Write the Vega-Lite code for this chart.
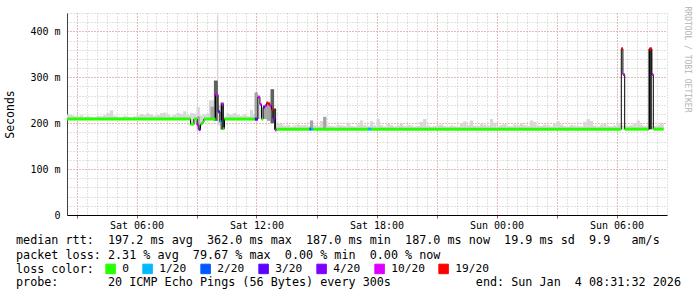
{
  "$schema": "https://vega.github.io/schema/vega-lite/v6.json",
  "width": 600,
  "height": 202,
  "autosize": {"type": "none"},
  "padding": {"left": 67, "top": 13, "right": 30, "bottom": 82},
  "background": "white",
  "config": {"view": {"stroke": null}, "font": "DejaVu Sans Mono"},
  "title": {
    "text": ["median\u00a0rtt:\u00a0\u00a0197.2\u00a0ms\u00a0avg\u00a0\u00a0362.0\u00a0ms\u00a0max\u00a0\u00a0187.0\u00a0ms\u00a0min\u00a0\u00a0187.0\u00a0ms\u00a0now\u00a0\u00a019.9\u00a0ms\u00a0sd\u00a0\u00a09.9\u00a0\u00a0\u00a0am/s", "packet\u00a0loss:\u00a02.31\u00a0%\u00a0avg\u00a0\u00a079.67\u00a0%\u00a0max\u00a0\u00a00.00\u00a0%\u00a0min\u00a0\u00a00.00\u00a0%\u00a0now"],
    "subtitle": "probe:\u00a0\u00a0\u00a0\u00a0\u00a0\u00a0\u00a020\u00a0ICMP\u00a0Echo\u00a0Pings\u00a0(56\u00a0Bytes)\u00a0every\u00a0300s\u00a0\u00a0\u00a0\u00a0\u00a0\u00a0\u00a0\u00a0\u00a0\u00a0\u00a0\u00a0end:\u00a0Sun\u00a0Jan\u00a0\u00a04\u00a008:31:32\u00a02026",
    "orient": "bottom", "anchor": "start", "frame": "group", "dx": -51, "dy": -47, "offset": 6,
    "font": "DejaVu Sans Mono", "fontSize": 11.75, "fontWeight": "normal", "color": "black", "lineHeight": 14.5,
    "subtitleFont": "DejaVu Sans Mono", "subtitleFontSize": 11.75, "subtitleFontWeight": "normal", "subtitleColor": "black", "subtitlePadding": 16
  },
  "datasets": {
    "smoke": [
      {"a":2.5,"b":2.67,"lo":207,"hi":219,"s":"l"},
      {"a":2.67,"b":2.83,"lo":207,"hi":218,"s":"l"},
      {"a":2.83,"b":3.0,"lo":207,"hi":216,"s":"l"},
      {"a":3.0,"b":3.17,"lo":207,"hi":215,"s":"l"},
      {"a":3.17,"b":3.33,"lo":207,"hi":217,"s":"l"},
      {"a":3.33,"b":3.5,"lo":207,"hi":214,"s":"l"},
      {"a":3.5,"b":3.67,"lo":207,"hi":215,"s":"l"},
      {"a":3.67,"b":3.83,"lo":207,"hi":214,"s":"l"},
      {"a":3.83,"b":4.0,"lo":207,"hi":213,"s":"l"},
      {"a":4.0,"b":4.17,"lo":207,"hi":216,"s":"l"},
      {"a":4.17,"b":4.33,"lo":207,"hi":215,"s":"l"},
      {"a":4.33,"b":4.5,"lo":207,"hi":218,"s":"l"},
      {"a":4.5,"b":4.67,"lo":207,"hi":222,"s":"l"},
      {"a":4.67,"b":4.83,"lo":207,"hi":228,"s":"l"},
      {"a":4.83,"b":5.0,"lo":207,"hi":216,"s":"l"},
      {"a":5.0,"b":5.17,"lo":207,"hi":214,"s":"l"},
      {"a":5.17,"b":5.33,"lo":207,"hi":213,"s":"l"},
      {"a":5.33,"b":5.5,"lo":207,"hi":216,"s":"l"},
      {"a":5.5,"b":5.67,"lo":207,"hi":214,"s":"l"},
      {"a":5.67,"b":5.83,"lo":207,"hi":213,"s":"l"},
      {"a":5.83,"b":6.0,"lo":207,"hi":215,"s":"l"},
      {"a":6.0,"b":6.17,"lo":207,"hi":217,"s":"l"},
      {"a":6.17,"b":6.33,"lo":207,"hi":220,"s":"l"},
      {"a":6.33,"b":6.5,"lo":207,"hi":218,"s":"l"},
      {"a":6.5,"b":6.67,"lo":207,"hi":221,"s":"l"},
      {"a":6.67,"b":6.83,"lo":207,"hi":219,"s":"l"},
      {"a":6.83,"b":7.0,"lo":207,"hi":216,"s":"l"},
      {"a":7.0,"b":7.17,"lo":207,"hi":218,"s":"l"},
      {"a":7.17,"b":7.33,"lo":207,"hi":222,"s":"l"},
      {"a":7.33,"b":7.5,"lo":207,"hi":223,"s":"l"},
      {"a":7.5,"b":7.67,"lo":207,"hi":219,"s":"l"},
      {"a":7.67,"b":7.83,"lo":207,"hi":215,"s":"l"},
      {"a":7.83,"b":8.0,"lo":207,"hi":218,"s":"l"},
      {"a":8.0,"b":8.17,"lo":207,"hi":222,"s":"l"},
      {"a":8.17,"b":8.33,"lo":207,"hi":220,"s":"l"},
      {"a":8.33,"b":8.5,"lo":207,"hi":226,"s":"l"},
      {"a":8.5,"b":8.67,"lo":207,"hi":218,"s":"l"},
      {"a":10.33,"b":10.5,"lo":207,"hi":215,"s":"l"},
      {"a":10.5,"b":10.67,"lo":207,"hi":221,"s":"l"},
      {"a":10.67,"b":10.83,"lo":207,"hi":219,"s":"l"},
      {"a":10.83,"b":11.0,"lo":207,"hi":222,"s":"l"},
      {"a":11.0,"b":11.17,"lo":207,"hi":218,"s":"l"},
      {"a":11.17,"b":11.33,"lo":207,"hi":216,"s":"l"},
      {"a":11.33,"b":11.5,"lo":207,"hi":219,"s":"l"},
      {"a":11.5,"b":11.67,"lo":207,"hi":215,"s":"l"},
      {"a":11.67,"b":11.83,"lo":207,"hi":229,"s":"l"},
      {"a":11.83,"b":11.92,"lo":207,"hi":220,"s":"l"},
      {"a":13.0,"b":13.17,"lo":185,"hi":199,"s":"l"},
      {"a":13.17,"b":13.33,"lo":185,"hi":198,"s":"l"},
      {"a":13.33,"b":13.5,"lo":185,"hi":195,"s":"l"},
      {"a":13.5,"b":13.67,"lo":185,"hi":196,"s":"l"},
      {"a":13.67,"b":13.83,"lo":185,"hi":193,"s":"l"},
      {"a":13.83,"b":14.0,"lo":185,"hi":195,"s":"l"},
      {"a":14.0,"b":14.17,"lo":185,"hi":197,"s":"l"},
      {"a":14.17,"b":14.33,"lo":185,"hi":195,"s":"l"},
      {"a":14.33,"b":14.5,"lo":185,"hi":196,"s":"l"},
      {"a":14.5,"b":14.67,"lo":185,"hi":194,"s":"l"},
      {"a":14.67,"b":14.83,"lo":185,"hi":206,"s":"m"},
      {"a":14.83,"b":15.0,"lo":185,"hi":196,"s":"l"},
      {"a":15.0,"b":15.17,"lo":185,"hi":194,"s":"l"},
      {"a":15.17,"b":15.33,"lo":185,"hi":205,"s":"l"},
      {"a":15.33,"b":15.5,"lo":185,"hi":214,"s":"m"},
      {"a":15.5,"b":15.67,"lo":185,"hi":195,"s":"l"},
      {"a":15.67,"b":15.83,"lo":185,"hi":194,"s":"l"},
      {"a":15.83,"b":16.0,"lo":185,"hi":193,"s":"l"},
      {"a":16.0,"b":16.17,"lo":185,"hi":196,"s":"l"},
      {"a":16.17,"b":16.33,"lo":185,"hi":195,"s":"l"},
      {"a":16.33,"b":16.5,"lo":185,"hi":194,"s":"l"},
      {"a":16.5,"b":16.67,"lo":185,"hi":201,"s":"l"},
      {"a":16.67,"b":16.83,"lo":185,"hi":194,"s":"l"},
      {"a":16.83,"b":17.0,"lo":185,"hi":193,"s":"l"},
      {"a":17.0,"b":17.17,"lo":185,"hi":197,"s":"l"},
      {"a":17.17,"b":17.33,"lo":185,"hi":206,"s":"l"},
      {"a":17.33,"b":17.5,"lo":185,"hi":196,"s":"l"},
      {"a":17.5,"b":17.67,"lo":185,"hi":194,"s":"l"},
      {"a":17.67,"b":17.83,"lo":185,"hi":204,"s":"l"},
      {"a":17.83,"b":18.0,"lo":185,"hi":195,"s":"l"},
      {"a":18.0,"b":18.17,"lo":185,"hi":209,"s":"l"},
      {"a":18.17,"b":18.33,"lo":185,"hi":196,"s":"l"},
      {"a":18.33,"b":18.5,"lo":185,"hi":193,"s":"l"},
      {"a":18.5,"b":18.67,"lo":185,"hi":198,"s":"l"},
      {"a":18.67,"b":18.83,"lo":185,"hi":196,"s":"l"},
      {"a":18.83,"b":19.0,"lo":185,"hi":193,"s":"l"},
      {"a":19.0,"b":19.17,"lo":185,"hi":195,"s":"l"},
      {"a":19.17,"b":19.33,"lo":185,"hi":199,"s":"l"},
      {"a":19.33,"b":19.5,"lo":185,"hi":194,"s":"l"},
      {"a":19.5,"b":19.67,"lo":185,"hi":196,"s":"l"},
      {"a":19.67,"b":19.83,"lo":185,"hi":195,"s":"l"},
      {"a":19.83,"b":20.0,"lo":185,"hi":193,"s":"l"},
      {"a":20.0,"b":20.17,"lo":185,"hi":194,"s":"l"},
      {"a":20.17,"b":20.33,"lo":185,"hi":203,"s":"l"},
      {"a":20.33,"b":20.5,"lo":185,"hi":209,"s":"l"},
      {"a":20.5,"b":20.67,"lo":185,"hi":195,"s":"l"},
      {"a":20.67,"b":20.83,"lo":185,"hi":193,"s":"l"},
      {"a":20.83,"b":21.0,"lo":185,"hi":194,"s":"l"},
      {"a":21.0,"b":21.17,"lo":185,"hi":196,"s":"l"},
      {"a":21.17,"b":21.33,"lo":185,"hi":197,"s":"l"},
      {"a":21.33,"b":21.5,"lo":185,"hi":194,"s":"l"},
      {"a":21.5,"b":21.67,"lo":185,"hi":193,"s":"l"},
      {"a":21.67,"b":21.83,"lo":185,"hi":195,"s":"l"},
      {"a":21.83,"b":22.0,"lo":185,"hi":194,"s":"l"},
      {"a":22.0,"b":22.17,"lo":185,"hi":193,"s":"l"},
      {"a":22.17,"b":22.33,"lo":185,"hi":200,"s":"l"},
      {"a":22.33,"b":22.5,"lo":185,"hi":204,"s":"l"},
      {"a":22.5,"b":22.67,"lo":185,"hi":196,"s":"l"},
      {"a":22.67,"b":22.83,"lo":185,"hi":206,"s":"l"},
      {"a":22.83,"b":23.0,"lo":185,"hi":195,"s":"l"},
      {"a":23.0,"b":23.17,"lo":185,"hi":194,"s":"l"},
      {"a":23.17,"b":23.33,"lo":185,"hi":198,"s":"l"},
      {"a":23.33,"b":23.5,"lo":185,"hi":197,"s":"l"},
      {"a":23.5,"b":23.67,"lo":185,"hi":195,"s":"l"},
      {"a":23.67,"b":23.83,"lo":185,"hi":209,"s":"l"},
      {"a":23.83,"b":24.0,"lo":185,"hi":201,"s":"l"},
      {"a":24.0,"b":24.17,"lo":185,"hi":194,"s":"l"},
      {"a":24.17,"b":24.33,"lo":185,"hi":196,"s":"l"},
      {"a":24.33,"b":24.5,"lo":185,"hi":198,"s":"l"},
      {"a":24.5,"b":24.67,"lo":185,"hi":194,"s":"l"},
      {"a":24.67,"b":24.83,"lo":185,"hi":193,"s":"l"},
      {"a":24.83,"b":25.0,"lo":185,"hi":197,"s":"l"},
      {"a":25.0,"b":25.17,"lo":185,"hi":195,"s":"l"},
      {"a":25.17,"b":25.33,"lo":185,"hi":200,"s":"l"},
      {"a":25.33,"b":25.5,"lo":185,"hi":196,"s":"l"},
      {"a":25.5,"b":25.67,"lo":185,"hi":194,"s":"l"},
      {"a":25.67,"b":25.83,"lo":185,"hi":206,"s":"l"},
      {"a":25.83,"b":26.0,"lo":185,"hi":203,"s":"l"},
      {"a":26.0,"b":26.17,"lo":185,"hi":195,"s":"l"},
      {"a":26.17,"b":26.33,"lo":185,"hi":194,"s":"l"},
      {"a":26.33,"b":26.5,"lo":185,"hi":197,"s":"l"},
      {"a":26.5,"b":26.67,"lo":185,"hi":196,"s":"l"},
      {"a":26.67,"b":26.83,"lo":185,"hi":193,"s":"l"},
      {"a":26.83,"b":27.0,"lo":185,"hi":199,"s":"l"},
      {"a":27.0,"b":27.17,"lo":185,"hi":204,"s":"l"},
      {"a":27.17,"b":27.33,"lo":185,"hi":197,"s":"l"},
      {"a":27.33,"b":27.5,"lo":185,"hi":194,"s":"l"},
      {"a":27.5,"b":27.67,"lo":185,"hi":193,"s":"l"},
      {"a":27.67,"b":27.83,"lo":185,"hi":196,"s":"l"},
      {"a":27.83,"b":28.0,"lo":185,"hi":195,"s":"l"},
      {"a":28.0,"b":28.17,"lo":185,"hi":194,"s":"l"},
      {"a":28.17,"b":28.33,"lo":185,"hi":193,"s":"l"},
      {"a":28.33,"b":28.5,"lo":185,"hi":203,"s":"l"},
      {"a":28.5,"b":28.67,"lo":185,"hi":209,"s":"l"},
      {"a":28.67,"b":28.83,"lo":185,"hi":205,"s":"l"},
      {"a":28.83,"b":29.0,"lo":185,"hi":195,"s":"l"},
      {"a":29.0,"b":29.17,"lo":185,"hi":193,"s":"l"},
      {"a":29.17,"b":29.33,"lo":185,"hi":197,"s":"l"},
      {"a":29.33,"b":29.5,"lo":185,"hi":198,"s":"l"},
      {"a":29.5,"b":29.67,"lo":185,"hi":194,"s":"l"},
      {"a":29.67,"b":29.83,"lo":185,"hi":193,"s":"l"},
      {"a":29.83,"b":30.0,"lo":185,"hi":195,"s":"l"},
      {"a":30.0,"b":30.17,"lo":185,"hi":200,"s":"l"},
      {"a":30.17,"b":30.33,"lo":185,"hi":196,"s":"l"},
      {"a":30.33,"b":30.5,"lo":185,"hi":195,"s":"l"},
      {"a":30.5,"b":30.67,"lo":185,"hi":194,"s":"l"},
      {"a":30.67,"b":30.83,"lo":185,"hi":196,"s":"l"},
      {"a":30.83,"b":31.0,"lo":185,"hi":199,"s":"l"},
      {"a":31.0,"b":31.17,"lo":185,"hi":206,"s":"l"},
      {"a":31.17,"b":31.33,"lo":185,"hi":197,"s":"l"},
      {"a":31.33,"b":31.5,"lo":185,"hi":194,"s":"l"},
      {"a":31.5,"b":31.67,"lo":185,"hi":195,"s":"l"},
      {"a":31.67,"b":31.83,"lo":185,"hi":193,"s":"l"},
      {"a":31.83,"b":32.0,"lo":185,"hi":194,"s":"l"},
      {"a":32.0,"b":32.17,"lo":185,"hi":196,"s":"l"},
      {"a":32.17,"b":32.36,"lo":185,"hi":201,"s":"l"},
      {"a":8.67,"b":8.83,"lo":196,"hi":222,"s":"l"},
      {"a":8.83,"b":9.0,"lo":196,"hi":221,"s":"l"},
      {"a":9.0,"b":9.17,"lo":184,"hi":235,"s":"l"},
      {"a":9.03,"b":9.17,"lo":186,"hi":215,"s":"m"},
      {"a":9.17,"b":9.33,"lo":196,"hi":217,"s":"l"},
      {"a":9.33,"b":9.5,"lo":207,"hi":219,"s":"l"},
      {"a":9.5,"b":9.67,"lo":207,"hi":221,"s":"l"},
      {"a":9.62,"b":9.87,"lo":207,"hi":250,"s":"l"},
      {"a":9.7,"b":9.87,"lo":209,"hi":236,"s":"m"},
      {"a":9.87,"b":10.07,"lo":205,"hi":293,"s":"d"},
      {"a":10.02,"b":10.09,"lo":293,"hi":435,"s":"l"},
      {"a":10.07,"b":10.2,"lo":195,"hi":240,"s":"l"},
      {"a":10.2,"b":10.37,"lo":186,"hi":245,"s":"d"},
      {"a":11.9,"b":12.07,"lo":205,"hi":267,"s":"m"},
      {"a":12.07,"b":12.2,"lo":209,"hi":240,"s":"l"},
      {"a":12.2,"b":12.35,"lo":209,"hi":232,"s":"l"},
      {"a":12.35,"b":12.52,"lo":209,"hi":238,"s":"m"},
      {"a":12.52,"b":12.7,"lo":205,"hi":246,"s":"m"},
      {"a":12.7,"b":12.88,"lo":200,"hi":274,"s":"d"},
      {"a":12.88,"b":12.98,"lo":186,"hi":232,"s":"k"},
      {"a":31.6,"b":31.77,"lo":187,"hi":362,"s":"k"}
    ],
    "med": [
      {"a":2.5,"b":8.7,"v":209,"l":"0"},
      {"a":8.7,"b":8.87,"v":198,"l":"0"},
      {"a":8.87,"b":9.03,"v":209,"l":"0"},
      {"a":9.03,"b":9.12,"v":196,"l":"10/20"},
      {"a":9.12,"b":9.2,"v":186,"l":"4/20"},
      {"a":9.2,"b":9.28,"v":198,"l":"0"},
      {"a":9.28,"b":9.37,"v":202,"l":"0"},
      {"a":9.37,"b":9.95,"v":209,"l":"0"},
      {"a":9.95,"b":10.08,"v":262,"l":"10/20"},
      {"a":10.08,"b":10.17,"v":225,"l":"3/20"},
      {"a":10.17,"b":10.25,"v":203,"l":"1/20"},
      {"a":10.25,"b":10.33,"v":241,"l":"10/20"},
      {"a":10.33,"b":10.4,"v":188,"l":"0"},
      {"a":10.4,"b":11.92,"v":209,"l":"0"},
      {"a":11.92,"b":12.07,"v":209,"l":"3/20"},
      {"a":12.07,"b":12.17,"v":257,"l":"10/20"},
      {"a":12.17,"b":12.25,"v":241,"l":"10/20"},
      {"a":12.25,"b":12.33,"v":209,"l":"0"},
      {"a":12.33,"b":12.42,"v":235,"l":"3/20"},
      {"a":12.42,"b":12.5,"v":238,"l":"10/20"},
      {"a":12.5,"b":12.58,"v":244,"l":"19/20"},
      {"a":12.58,"b":12.67,"v":242,"l":"19/20"},
      {"a":12.67,"b":12.75,"v":238,"l":"10/20"},
      {"a":12.75,"b":12.83,"v":230,"l":"19/20"},
      {"a":12.83,"b":12.93,"v":210,"l":"4/20"},
      {"a":12.93,"b":13.0,"v":185,"l":"10/20"},
      {"a":13.0,"b":14.65,"v":187,"l":"0"},
      {"a":14.65,"b":14.73,"v":187,"l":"2/20"},
      {"a":14.73,"b":14.83,"v":187,"l":"1/20"},
      {"a":14.83,"b":17.57,"v":187,"l":"0"},
      {"a":17.57,"b":17.73,"v":187,"l":"1/20"},
      {"a":17.73,"b":30.24,"v":187,"l":"0"},
      {"a":30.24,"b":30.32,"v":362,"l":"19/20"},
      {"a":30.32,"b":30.41,"v":306,"l":"10/20"},
      {"a":30.41,"b":31.6,"v":187,"l":"0"},
      {"a":31.64,"b":31.77,"v":362,"l":"19/20"},
      {"a":31.77,"b":31.84,"v":306,"l":"10/20"},
      {"a":31.84,"b":32.36,"v":187,"l":"0"}
    ]
  },
  "layer": [
    {
      "data": {"name": "smoke"},
      "mark": {"type": "rect", "clip": true},
      "encoding": {
        "x": {"field": "a", "type": "quantitative",
          "scale": {"domain": [2.525, 32.525], "nice": false, "zero": false},
          "axis": {"orient": "bottom", "grid": true, "gridColor": "#c4c4c4", "gridDash": [1, 2], "labels": false, "ticks": false, "domain": false, "title": null,
            "values": [3,3.5,4,4.5,5,5.5,6,6.5,7,7.5,8,8.5,9,9.5,10,10.5,11,11.5,12,12.5,13,13.5,14,14.5,15,15.5,16,16.5,17,17.5,18,18.5,19,19.5,20,20.5,21,21.5,22,22.5,23,23.5,24,24.5,25,25.5,26,26.5,27,27.5,28,28.5,29,29.5,30,30.5,31,31.5,32,32.5]}},
        "x2": {"field": "b"},
        "y": {"field": "lo", "type": "quantitative",
          "scale": {"domain": [0, 440], "nice": false, "zero": true},
          "axis": {"orient": "left", "grid": true, "gridColor": "#c4c4c4", "gridDash": [1, 2], "labels": false, "ticks": false, "domain": false, "title": null,
            "values": [20,40,60,80,100,120,140,160,180,200,220,240,260,280,300,320,340,360,380,400,420,440]}},
        "y2": {"field": "hi"},
        "fill": {"field": "s", "type": "nominal", "legend": null,
          "scale": {"domain": ["l", "m", "d", "k"], "range": ["#d8d8d8", "#a4a4a4", "#606060", "#2e2e2e"]}}
      }
    },
    {
      "data": {"name": "med"},
      "mark": {"type": "line", "interpolate": "step-after", "color": "black", "strokeWidth": 1, "clip": true},
      "encoding": {
        "x": {"field": "a", "type": "quantitative",
          "axis": {"orient": "bottom", "values": [3,6,9,12,15,18,21,24,27,30], "grid": true, "gridColor": "#e49494", "gridDash": [1, 2],
            "labelExpr": "datum.value % 6 == 0 ? ((datum.value < 24 ? 'Sat ' : 'Sun ') + (datum.value % 24 < 10 ? '0' : '') + (datum.value % 24) + ':00') : ''",
            "labelFont": "DejaVu Sans Mono", "labelFontSize": 10, "labelColor": "black", "labelPadding": 2, "labelFlush": false, "labelOverlap": false,
            "ticks": true, "tickSize": 3, "tickColor": "#c05050", "domainColor": "black", "title": null}},
        "y": {"field": "v", "type": "quantitative",
          "axis": {"orient": "left", "values": [0, 100, 200, 300, 400], "grid": true, "gridColor": "#e49494", "gridDash": [1, 2],
            "labelExpr": "datum.value == 0 ? '0' : datum.value + ' m'",
            "labelFont": "DejaVu Sans Mono", "labelFontSize": 10, "labelColor": "black", "labelPadding": 7, "ticks": false, "domainColor": "#404040",
            "title": "Seconds", "titleFont": "DejaVu Sans Mono", "titleFontSize": 11.5, "titleFontWeight": "normal", "titleColor": "black",
            "titleAngle": 270, "titleX": -57, "titleY": 101, "titleAlign": "center", "titleBaseline": "middle"}}
      }
    },
    {
      "data": {"name": "med"},
      "mark": {"type": "rule", "strokeWidth": 3, "strokeCap": "butt", "clip": true},
      "encoding": {
        "x": {"field": "a", "type": "quantitative", "axis": null},
        "x2": {"field": "b"},
        "y": {"field": "v", "type": "quantitative",
          "axis": {"orient": "right", "labels": false, "ticks": false, "domain": false, "grid": false,
            "title": "RRDTOOL / TOBI OETIKER", "titleFont": "DejaVu Sans Mono", "titleFontSize": 8, "titleFontWeight": "normal", "titleColor": "#b4b4b4",
            "titleAngle": 90, "titleX": 19, "titleY": 46, "titleAlign": "center", "titleBaseline": "middle"}},
        "color": {"field": "l", "type": "nominal",
          "scale": {"domain": ["0", "1/20", "2/20", "3/20", "4/20", "10/20", "19/20"],
            "range": ["#26ff00", "#00b8ff", "#0059ff", "#5e00ff", "#7e00ff", "#dd00ff", "#ff0000"]},
          "legend": {"orient": "none", "legendX": -51, "legendY": 250, "direction": "horizontal", "columns": 7,
            "title": "loss color:", "titleOrient": "left", "titleFont": "DejaVu Sans Mono", "titleFontSize": 11.75, "titleFontWeight": "normal",
            "titleColor": "black", "titlePadding": 11, "titleBaseline": "middle",
            "labelFont": "DejaVu Sans Mono", "labelFontSize": 11.2, "labelColor": "black", "labelOffset": 6, "columnPadding": 11,
            "symbolType": "square", "symbolSize": 90, "symbolStrokeWidth": 1, "padding": 0,
            "encode": {"symbols": {"update": {"fill": {"scale": "color", "field": "value"}, "stroke": {"value": "black"}, "opacity": {"value": 1}, "fillOpacity": {"value": 1}, "strokeWidth": {"value": 1}}}}}}
      }
    }
  ],
  "resolve": {"axis": {"x": "independent", "y": "independent"}}
}
